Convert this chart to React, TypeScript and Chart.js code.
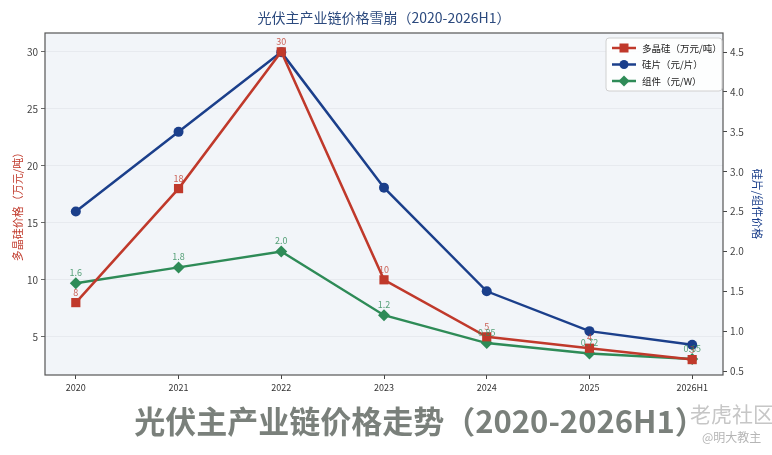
import React, { useEffect, useRef } from "react";
import { Chart, registerables } from "chart.js";

Chart.register(...registerables);

const categories = ["2020", "2021", "2022", "2023", "2024", "2025", "2026H1"];
const polysilicon = [8, 18, 30, 10, 5, 4, 3];
const wafer = [2.5, 3.5, 4.5, 2.8, 1.5, 1.0, 0.83];
const module = [1.6, 1.8, 2.0, 1.2, 0.85, 0.72, 0.65];
const seriesNames = ["多晶硅（万元/吨）", "硅片（元/片）", "组件（元/W）"];
const leftTicks = [5, 10, 15, 20, 25, 30];
const rightTicks = [0.5, 1.0, 1.5, 2.0, 2.5, 3.0, 3.5, 4.0, 4.5];

const RED = "#c0392b";
const BLUE = "#1b3f8b";
const GREEN = "#2e8b57";
const FONT = "'Noto Sans CJK SC', 'Noto Sans', sans-serif";

const decorPlugin = {
  id: "decor",
  beforeDraw(chart: any) {
    const { ctx, chartArea: a } = chart;
    ctx.save();
    ctx.fillStyle = "#ffffff";
    ctx.fillRect(0, 0, chart.width, chart.height);
    ctx.fillStyle = "#f2f5f9";
    ctx.fillRect(a.left, a.top, a.right - a.left, a.bottom - a.top);
    ctx.restore();
  },
  afterDraw(chart: any) {
    const { ctx, chartArea: a } = chart;
    ctx.save();
    // frame
    ctx.strokeStyle = "#555555";
    ctx.lineWidth = 1.2;
    ctx.strokeRect(a.left, a.top, a.right - a.left, a.bottom - a.top);
    // title
    ctx.fillStyle = "#2c4a7e";
    ctx.font = `14px ${FONT}`;
    ctx.textAlign = "center";
    ctx.textBaseline = "middle";
    ctx.fillText("光伏主产业链价格雪崩（2020-2026H1）", (a.left + a.right) / 2, 18);
    // legend
    const bx = 606, by = 38, bw = 116, bh = 53;
    ctx.fillStyle = "rgba(255,255,255,0.85)";
    ctx.strokeStyle = "#d0d0d0";
    ctx.lineWidth = 1;
    ctx.beginPath();
    ctx.roundRect(bx, by, bw, bh, 3);
    ctx.fill();
    ctx.stroke();
    const colors = [RED, BLUE, GREEN];
    colors.forEach((c, i) => {
      const y = by + 10 + i * 16.5;
      ctx.strokeStyle = c;
      ctx.lineWidth = 2.5;
      ctx.beginPath();
      ctx.moveTo(bx + 6, y);
      ctx.lineTo(bx + 30, y);
      ctx.stroke();
      ctx.fillStyle = c;
      if (i === 0) {
        ctx.fillRect(bx + 18 - 4.5, y - 4.5, 9, 9);
      } else if (i === 1) {
        ctx.beginPath();
        ctx.arc(bx + 18, y, 4.5, 0, Math.PI * 2);
        ctx.fill();
      } else {
        ctx.beginPath();
        ctx.moveTo(bx + 18, y - 5.5);
        ctx.lineTo(bx + 23.5, y);
        ctx.lineTo(bx + 18, y + 5.5);
        ctx.lineTo(bx + 12.5, y);
        ctx.closePath();
        ctx.fill();
      }
      ctx.fillStyle = "#222";
      ctx.font = `9.5px ${FONT}`;
      ctx.textAlign = "left";
      ctx.textBaseline = "middle";
      ctx.fillText(seriesNames[i], bx + 36, y);
    });
    ctx.restore();
  },
  afterDatasetsDraw(chart: any) {
    const { ctx } = chart;
    ctx.save();
    ctx.font = `9px ${FONT}`;
    ctx.textAlign = "center";
    ctx.textBaseline = "bottom";
    [0, 2].forEach((di) => {
      const ds = chart.data.datasets[di];
      const meta = chart.getDatasetMeta(di);
      ctx.fillStyle = di === 0 ? "rgba(192,57,43,0.8)" : "rgba(46,139,87,0.8)";
      meta.data.forEach((pt: any, j: number) => {
        const v = ds.data[j].y;
        const txt = di === 2 && Number.isInteger(v) ? v.toFixed(1) : String(v);
        ctx.fillText(txt, pt.x, pt.y - 6);
      });
    });
    ctx.restore();
  },
};

export default function App() {
  const ref = useRef<HTMLCanvasElement>(null);
  useEffect(() => {
    if (!ref.current) return;
    const toXY = (arr: number[]) => arr.map((y, i) => ({ x: i, y }));
    const chart = new Chart(ref.current, {
      type: "line",
      data: {
        datasets: [
          {
            label: seriesNames[0],
            data: toXY(polysilicon),
            yAxisID: "y",
            borderColor: RED,
            backgroundColor: RED,
            borderWidth: 2.5,
            pointStyle: "rect",
            pointRadius: 6.5,
            pointBorderWidth: 0,
            tension: 0,
          },
          {
            label: seriesNames[1],
            data: toXY(wafer),
            yAxisID: "y1",
            borderColor: BLUE,
            backgroundColor: BLUE,
            borderWidth: 2.5,
            pointStyle: "circle",
            pointRadius: 5,
            pointBorderWidth: 0,
            tension: 0,
          },
          {
            label: seriesNames[2],
            data: toXY(module),
            yAxisID: "y1",
            borderColor: GREEN,
            backgroundColor: GREEN,
            borderWidth: 2.5,
            pointStyle: "rectRot",
            pointRadius: 6,
            pointBorderWidth: 0,
            tension: 0,
          },
        ] as any,
      },
      options: {
        animation: false,
        responsive: false,
        maintainAspectRatio: false,
        layout: { padding: { top: 33, left: 0, right: 0, bottom: 0 } },
        plugins: { legend: { display: false }, tooltip: { enabled: false }, title: { display: false } },
        scales: {
          x: {
            type: "linear",
            min: -0.3,
            max: 6.3,
            afterBuildTicks: (s: any) => {
              s.ticks = categories.map((_, i) => ({ value: i }));
            },
            afterFit: (s: any) => {
              s.height = 25;
            },
            ticks: {
              callback: (v: any) => categories[v] ?? "",
              color: "#333",
              font: { size: 9, family: FONT },
              padding: 3,
              maxRotation: 0,
              autoSkip: false,
            },
            grid: { drawOnChartArea: false, drawTicks: true, tickLength: 4, tickColor: "#444" },
            border: { display: false },
          },
          y: {
            type: "linear",
            position: "left",
            min: 1.65,
            max: 31.65,
            afterBuildTicks: (s: any) => {
              s.ticks = leftTicks.map((v) => ({ value: v }));
            },
            afterFit: (s: any) => {
              s.width = 45;
            },
            ticks: { color: "#444", font: { size: 10, family: FONT }, padding: 3 },
            grid: { color: "#e3e7ec", lineWidth: 0.8, tickLength: 4, tickColor: "#444" },
            border: { display: false },
            title: {
              display: true,
              text: "多晶硅价格（万元/吨）",
              color: RED,
              font: { size: 11, family: FONT },
              padding: { top: 11, bottom: 0 },
            },
          },
          y1: {
            type: "linear",
            position: "right",
            min: 0.45,
            max: 4.74,
            afterBuildTicks: (s: any) => {
              s.ticks = rightTicks.map((v) => ({ value: v }));
            },
            afterFit: (s: any) => {
              s.width = 49;
            },
            ticks: {
              color: "#444",
              font: { size: 10, family: FONT },
              padding: 3,
              callback: (v: any) => Number(v).toFixed(1),
            },
            grid: { drawOnChartArea: false, tickLength: 4, tickColor: "#444" },
            border: { display: false },
            title: {
              display: true,
              text: "硅片/组件价格",
              color: BLUE,
              font: { size: 11, family: FONT },
              padding: { top: 8, bottom: 0 },
            },
          },
        },
      } as any,
      plugins: [decorPlugin],
    });
    return () => chart.destroy();
  }, []);

  return (
    <div style={{ position: "fixed", left: 0, top: 0, width: 772, height: 455, background: "#fff", overflow: "hidden" }}>
      <canvas ref={ref} width={772} height={400} style={{ position: "absolute", left: 0, top: 0, width: 772, height: 400 }} />
      <div
        style={{
          position: "absolute",
          left: 0,
          width: 840,
          top: 398,
          textAlign: "center",
          fontFamily: FONT,
          fontWeight: 700,
          fontSize: 31,
          color: "#7a807b",
          lineHeight: "44px",
          whiteSpace: "nowrap",
        }}
      >
        光伏主产业链价格走势（2020-2026H1）
      </div>
      <div style={{ position: "absolute", left: 690, top: 398, fontFamily: FONT, fontSize: 21, color: "rgba(160,160,160,0.6)", whiteSpace: "nowrap" }}>
        老虎社区
      </div>
      <div style={{ position: "absolute", left: 702, top: 428, fontFamily: FONT, fontSize: 12, color: "rgba(150,150,150,0.7)", whiteSpace: "nowrap" }}>
        @明大教主
      </div>
    </div>
  );
}
